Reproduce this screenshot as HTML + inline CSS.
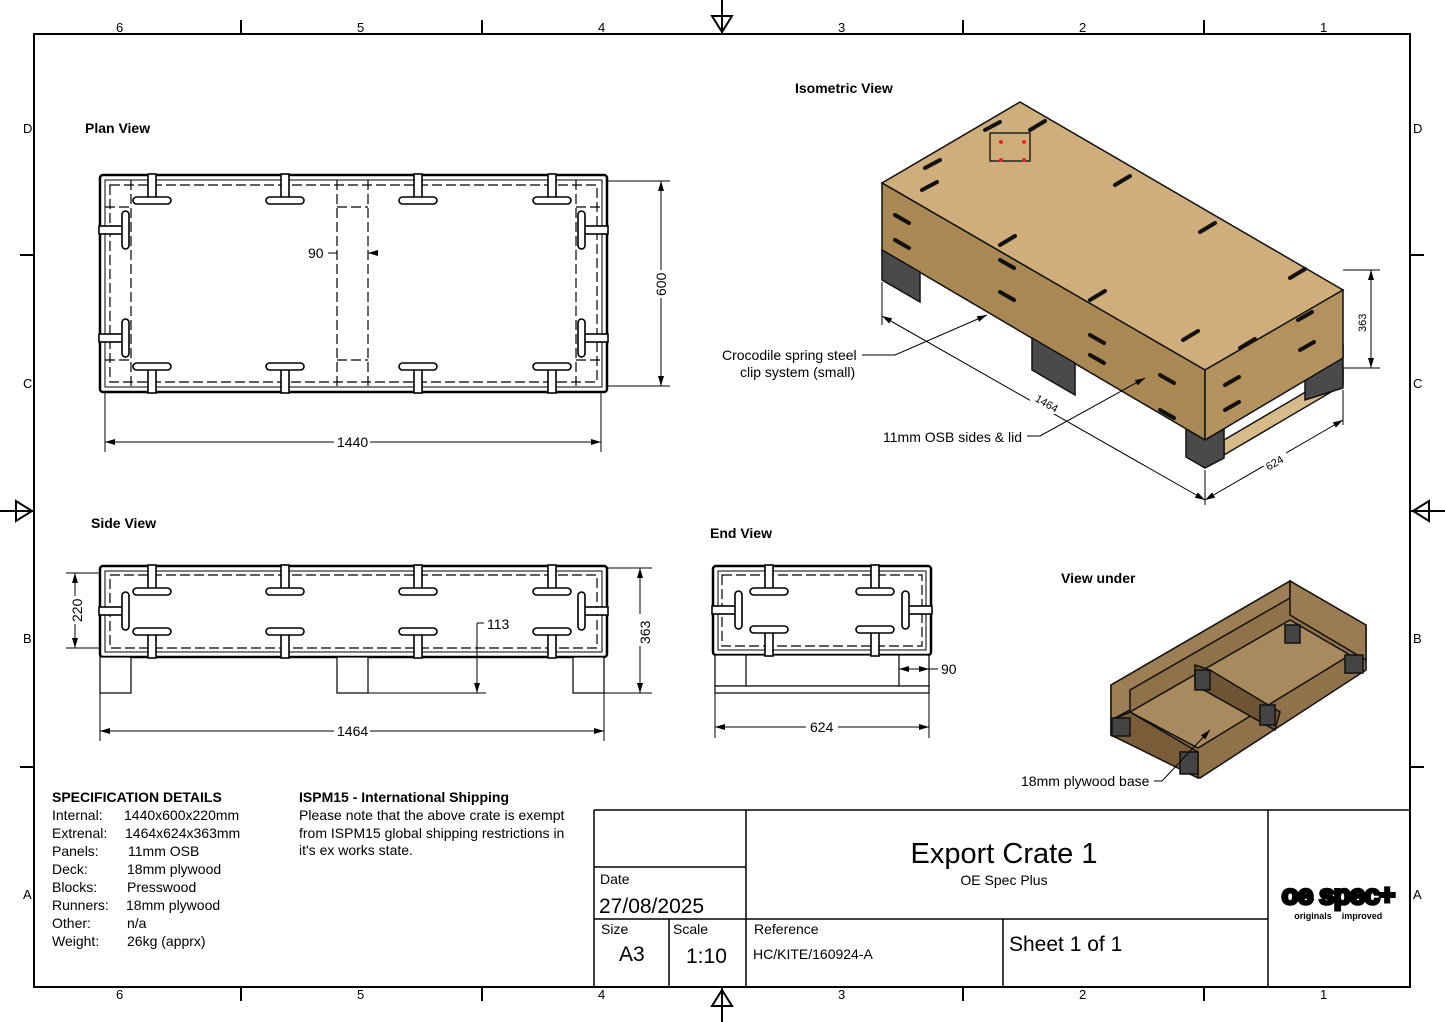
<!DOCTYPE html>
<html><head><meta charset="utf-8"><style>
html,body{margin:0;padding:0;background:#fff}
svg{display:block}
text{font-family:"Liberation Sans","DejaVu Sans",sans-serif;fill:#000}
</style></head><body>
<svg width="1445" height="1022" viewBox="0 0 1445 1022" xmlns="http://www.w3.org/2000/svg">
<defs>
<g id="tc" fill="#fff" stroke="#000" stroke-width="1.6">
<rect x="-4" y="0" width="8" height="26"/>
<rect x="-19" y="23" width="38" height="7" rx="3.5"/>
</g>
<marker id="ar" markerWidth="10" markerHeight="6" refX="10" refY="3" orient="auto-start-reverse" markerUnits="userSpaceOnUse"><path d="M0,0 L10,3 L0,6z" fill="#000"/></marker>
</defs>

<!-- frame -->
<rect x="34" y="34" width="1376" height="953" fill="none" stroke="#000" stroke-width="2"/>
<g stroke="#000" stroke-width="2">
<line x1="241" y1="20" x2="241" y2="34"/><line x1="482" y1="20" x2="482" y2="34"/><line x1="963" y1="20" x2="963" y2="34"/><line x1="1204" y1="20" x2="1204" y2="34"/>
<line x1="241" y1="987" x2="241" y2="1001"/><line x1="482" y1="987" x2="482" y2="1001"/><line x1="963" y1="987" x2="963" y2="1001"/><line x1="1204" y1="987" x2="1204" y2="1001"/>
<line x1="20" y1="255" x2="34" y2="255"/><line x1="20" y1="767" x2="34" y2="767"/>
<line x1="1410" y1="255" x2="1424" y2="255"/><line x1="1410" y1="767" x2="1424" y2="767"/>
<line x1="722" y1="0" x2="722" y2="34"/><line x1="722" y1="987" x2="722" y2="1022"/>
<line x1="0" y1="511" x2="34" y2="511"/><line x1="1410" y1="511" x2="1445" y2="511"/>
</g>
<g fill="none" stroke="#000" stroke-width="2">
<path d="M712,16 L732,16 L722,32 Z"/><path d="M712,1006 L732,1006 L722,990 Z"/>
<path d="M16,501 L16,521 L32,511 Z"/><path d="M1429,501 L1429,521 L1413,511 Z"/>
</g>
<g font-size="13">
<text x="116" y="32">6</text><text x="357" y="32">5</text><text x="598" y="32">4</text><text x="838" y="32">3</text><text x="1079" y="32">2</text><text x="1320" y="32">1</text>
<text x="116" y="999">6</text><text x="357" y="999">5</text><text x="598" y="999">4</text><text x="838" y="999">3</text><text x="1079" y="999">2</text><text x="1320" y="999">1</text>
<text x="23" y="133">D</text><text x="23" y="388">C</text><text x="23" y="643">B</text><text x="23" y="899">A</text>
<text x="1413" y="133">D</text><text x="1413" y="388">C</text><text x="1413" y="643">B</text><text x="1413" y="899">A</text>
</g>

<g font-size="14" font-weight="bold">
<text x="85" y="133">Plan View</text>
<text x="795" y="93">Isometric View</text>
<text x="91" y="528">Side View</text>
<text x="710" y="538">End View</text>
<text x="1061" y="583">View under</text>
</g>

<!-- PLAN VIEW -->
<rect x="100" y="175" width="507" height="217" fill="none" stroke="#000" stroke-width="2.5" rx="3"/>
<rect x="105" y="180" width="497" height="207" fill="none" stroke="#000" stroke-width="1"/>
<g fill="none" stroke="#000" stroke-width="1.2" stroke-dasharray="10,4">
<rect x="110" y="185" width="487" height="197"/>
<line x1="131" y1="180" x2="131" y2="387"/><line x1="576" y1="180" x2="576" y2="387"/>
<line x1="105" y1="207" x2="131" y2="207"/><line x1="105" y1="360" x2="131" y2="360"/>
<line x1="576" y1="207" x2="602" y2="207"/><line x1="576" y1="360" x2="602" y2="360"/>
<line x1="337" y1="180" x2="337" y2="387"/><line x1="368" y1="180" x2="368" y2="387"/>
<line x1="337" y1="207" x2="368" y2="207"/><line x1="337" y1="360" x2="368" y2="360"/>
</g>
<g>
<use href="#tc" transform="translate(152,174)"/><use href="#tc" transform="translate(285,174)"/><use href="#tc" transform="translate(418,174)"/><use href="#tc" transform="translate(552,174)"/>
<use href="#tc" transform="translate(152,393) rotate(180)"/><use href="#tc" transform="translate(285,393) rotate(180)"/><use href="#tc" transform="translate(418,393) rotate(180)"/><use href="#tc" transform="translate(552,393) rotate(180)"/>
<use href="#tc" transform="translate(99,230) rotate(-90)"/><use href="#tc" transform="translate(99,338) rotate(-90)"/>
<use href="#tc" transform="translate(608,230) rotate(90)"/><use href="#tc" transform="translate(608,338) rotate(90)"/>
</g>
<g stroke="#000" stroke-width="1" fill="none">
<line x1="607" y1="181" x2="670" y2="181"/><line x1="607" y1="386" x2="670" y2="386"/>
<line x1="661" y1="181" x2="661" y2="270" marker-start="url(#ar)"/><line x1="661" y1="298" x2="661" y2="386" marker-end="url(#ar)"/>
<line x1="105" y1="392" x2="105" y2="452"/><line x1="601" y1="392" x2="601" y2="452"/>
<line x1="105" y1="442" x2="334" y2="442" marker-start="url(#ar)"/><line x1="370" y1="442" x2="601" y2="442" marker-end="url(#ar)"/>
<line x1="328" y1="253" x2="337" y2="253"/>
<line x1="368" y1="253" x2="378" y2="253" marker-start="url(#ar)"/>
</g>
<text x="308" y="258" font-size="14">90</text>
<text x="337" y="447" font-size="14">1440</text>
<text x="666" y="296" font-size="14" transform="rotate(-90 666 296)">600</text>

<!-- SIDE VIEW -->
<rect x="100" y="566" width="507" height="91" fill="none" stroke="#000" stroke-width="2.5" rx="3"/>
<rect x="105" y="571" width="497" height="81" fill="none" stroke="#000" stroke-width="1"/>
<rect x="110" y="575" width="487" height="73" fill="none" stroke="#000" stroke-width="1.2" stroke-dasharray="10,4"/>
<g fill="#fff" stroke="#000" stroke-width="1.2">
<rect x="100" y="657" width="31" height="36"/><rect x="337" y="657" width="31" height="36"/><rect x="573" y="657" width="31" height="36"/>
</g>
<use href="#tc" transform="translate(152,565)"/><use href="#tc" transform="translate(285,565)"/><use href="#tc" transform="translate(418,565)"/><use href="#tc" transform="translate(552,565)"/>
<use href="#tc" transform="translate(152,658) rotate(180)"/><use href="#tc" transform="translate(285,658) rotate(180)"/><use href="#tc" transform="translate(418,658) rotate(180)"/><use href="#tc" transform="translate(552,658) rotate(180)"/>
<use href="#tc" transform="translate(99,611) rotate(-90)"/><use href="#tc" transform="translate(608,611) rotate(90)"/>
<g stroke="#000" stroke-width="1" fill="none">
<line x1="66" y1="573" x2="100" y2="573"/><line x1="66" y1="648" x2="100" y2="648"/>
<line x1="75" y1="573" x2="75" y2="596" marker-start="url(#ar)"/><line x1="75" y1="624" x2="75" y2="648" marker-end="url(#ar)"/>
<line x1="607" y1="568" x2="652" y2="568"/><line x1="604" y1="693" x2="652" y2="693"/>
<line x1="640" y1="568" x2="640" y2="614" marker-start="url(#ar)"/><line x1="640" y1="646" x2="640" y2="693" marker-end="url(#ar)"/>
<line x1="100" y1="693" x2="100" y2="741"/><line x1="604" y1="693" x2="604" y2="741"/>
<line x1="100" y1="731" x2="334" y2="731" marker-start="url(#ar)"/><line x1="370" y1="731" x2="604" y2="731" marker-end="url(#ar)"/>
<line x1="368" y1="693" x2="486" y2="693"/>
<line x1="477" y1="623" x2="477" y2="693" marker-end="url(#ar)"/><line x1="477" y1="623" x2="484" y2="623"/>
</g>
<text x="337" y="736" font-size="14">1464</text>
<text x="487" y="629" font-size="14">113</text>
<text x="82" y="622" font-size="14" transform="rotate(-90 82 622)">220</text>
<text x="650" y="644" font-size="14" transform="rotate(-90 650 644)">363</text>

<!-- END VIEW -->
<rect x="713" y="566" width="218" height="89" fill="none" stroke="#000" stroke-width="2.5" rx="3"/>
<rect x="718" y="571" width="208" height="79" fill="none" stroke="#000" stroke-width="1"/>
<rect x="722" y="575" width="200" height="71" fill="none" stroke="#000" stroke-width="1.2" stroke-dasharray="10,4"/>
<g fill="#fff" stroke="#000" stroke-width="1.2">
<rect x="715" y="655" width="214" height="31"/><line x1="746" y1="655" x2="746" y2="686"/><line x1="899" y1="655" x2="899" y2="686"/>
<rect x="715" y="686" width="214" height="7"/>
</g>
<use href="#tc" transform="translate(769,565)"/><use href="#tc" transform="translate(875,565)"/>
<use href="#tc" transform="translate(769,656) rotate(180)"/><use href="#tc" transform="translate(875,656) rotate(180)"/>
<use href="#tc" transform="translate(712,610) rotate(-90)"/><use href="#tc" transform="translate(932,610) rotate(90)"/>
<g stroke="#000" stroke-width="1" fill="none">
<line x1="715" y1="693" x2="715" y2="738"/><line x1="929" y1="693" x2="929" y2="738"/>
<line x1="715" y1="727" x2="806" y2="727" marker-start="url(#ar)"/><line x1="838" y1="727" x2="929" y2="727" marker-end="url(#ar)"/>
<line x1="899" y1="669" x2="929" y2="669" marker-start="url(#ar)" marker-end="url(#ar)"/><line x1="929" y1="669" x2="938" y2="669"/>
</g>
<text x="810" y="732" font-size="14">624</text>
<text x="941" y="674" font-size="14">90</text>

<!-- ISOMETRIC -->
<g stroke="#111" stroke-width="1.5">
<polygon points="1224,440 1343,370 1343,385 1224,455" fill="#d7bb8a"/>
<polygon points="1305,362 1343,345 1343,388 1305,400" fill="#4a4a4a"/>
<polygon points="1020,102 1343,290 1205,370 882,183" fill="#cfae7c"/>
<polygon points="882,183 1205,370 1205,440 882,250" fill="#a98853"/>
<polygon points="1205,370 1343,290 1343,358 1205,440" fill="#b4925e"/>
<polygon points="882,250 920,272 920,302 882,280" fill="#4a4a4a"/>
<polygon points="1032,338 1075,363 1075,395 1032,370" fill="#4a4a4a"/>
<polygon points="1186,429 1205,440 1224,429 1224,458 1205,468 1186,457" fill="#4a4a4a"/>
</g>
<g stroke="#111" stroke-width="4" stroke-linecap="round" fill="none">
<path d="M985,130 l15,-8 M1030,130 l15,-9 M925,168 l15,-8 M922,190 l15,-8 M1115,185 l15,-9 M1200,232 l15,-9 M1290,278 l15,-9 M1183,340 l15,-9 M1240,348 l15,-9 M1000,245 l15,-9 M1090,300 l15,-9"/>
<path d="M895,215 l14,8 M895,240 l14,8 M1000,260 l14,8 M1000,292 l14,8 M1090,335 l14,8 M1090,355 l14,8 M1160,375 l14,8 M1160,410 l14,8 M1298,320 l14,-8 M1300,350 l14,-8 M1225,385 l14,-8 M1225,410 l14,-8"/>
</g>
<rect x="990" y="133" width="40" height="28" fill="none" stroke="#222" stroke-width="1.5"/>
<g fill="#e22"><circle cx="1001" cy="142" r="2"/><circle cx="1024" cy="142" r="2"/><circle cx="1001" cy="160" r="2"/><circle cx="1024" cy="160" r="2"/></g>
<g stroke="#000" stroke-width="1" fill="none">
<line x1="882" y1="282" x2="882" y2="325"/><line x1="1205" y1="470" x2="1205" y2="505"/>
<line x1="882" y1="316" x2="1205" y2="500" marker-start="url(#ar)" marker-end="url(#ar)"/>
<line x1="1205" y1="500" x2="1343" y2="420" marker-start="url(#ar)" marker-end="url(#ar)"/>
<line x1="1343" y1="390" x2="1343" y2="425"/>
<line x1="1343" y1="270" x2="1380" y2="270"/><line x1="1343" y1="368" x2="1380" y2="368"/>
<line x1="1371" y1="270" x2="1371" y2="368" marker-start="url(#ar)" marker-end="url(#ar)"/>
<polyline points="862,355 895,355 987,315" marker-end="url(#ar)"/>
<polyline points="1027,436 1040,436 1145,378" marker-end="url(#ar)"/>
</g>
<rect x="1030" y="398" width="30" height="16" fill="#fff"/>
<text x="1032" y="407" font-size="11" transform="rotate(30 1045 408)">1464</text>
<rect x="1262" y="452" width="24" height="14" fill="#fff"/>
<text x="1264" y="466" font-size="11" transform="rotate(-30 1275 460)">624</text>
<text x="1366" y="332" font-size="11" transform="rotate(-90 1366 332)">363</text>
<text x="722" y="360" font-size="14">Crocodile spring steel</text>
<text x="740" y="377" font-size="14">clip system (small)</text>
<text x="883" y="442" font-size="14">11mm OSB sides &amp; lid</text>

<!-- VIEW UNDER -->
<g stroke="#111" stroke-width="1.5">
<polygon points="1111,685 1290,581 1366,625 1366,670 1200,778 1111,735" fill="#8f714a"/>
<polygon points="1111,685 1290,581 1290,598 1130,690 1130,710 1111,720" fill="#9e7f55"/>
<polygon points="1130,712 1290,620 1350,655 1198,748" fill="#a88a5e"/>
<polygon points="1111,720 1130,712 1198,752 1198,778 1111,735" fill="#7a5c38"/>
<polygon points="1195,665 1210,670 1280,712 1275,730 1195,685" fill="#6f5535"/>
<polygon points="1290,581 1366,625 1366,660 1290,615" fill="#9a7b52"/>
<rect x="1112" y="718" width="18" height="18" fill="#444"/>
<rect x="1180" y="752" width="18" height="22" fill="#444"/>
<rect x="1195" y="670" width="15" height="20" fill="#444"/>
<rect x="1260" y="705" width="15" height="20" fill="#444"/>
<rect x="1285" y="625" width="15" height="18" fill="#444"/>
<rect x="1345" y="655" width="18" height="18" fill="#444"/>
</g>
<polyline points="1154,781 1162,781 1210,730" stroke="#000" fill="none" stroke-width="1" marker-end="url(#ar)"/>
<text x="1021" y="786" font-size="14">18mm plywood base</text>

<!-- SPEC -->
<text x="52" y="802" font-size="14" font-weight="bold">SPECIFICATION DETAILS</text>
<g font-size="14">
<text x="52" y="820">Internal:</text><text x="124" y="820">1440x600x220mm</text>
<text x="52" y="838">Extrenal:</text><text x="125" y="838">1464x624x363mm</text>
<text x="52" y="856">Panels:</text><text x="128" y="856">11mm OSB</text>
<text x="52" y="874">Deck:</text><text x="127" y="874">18mm plywood</text>
<text x="52" y="892">Blocks:</text><text x="127" y="892">Presswood</text>
<text x="52" y="910">Runners:</text><text x="126" y="910">18mm plywood</text>
<text x="52" y="928">Other:</text><text x="127" y="928">n/a</text>
<text x="52" y="946">Weight:</text><text x="127" y="946">26kg (apprx)</text>
</g>
<text x="299" y="802" font-size="14" font-weight="bold">ISPM15 - International Shipping</text>
<g font-size="14">
<text x="299" y="820">Please note that the above crate is exempt</text>
<text x="299" y="838">from ISPM15 global shipping restrictions in</text>
<text x="299" y="855">it's ex works state.</text>
</g>

<!-- TITLE BLOCK -->
<g stroke="#000" stroke-width="1.5" fill="none">
<line x1="594" y1="810" x2="1410" y2="810"/>
<line x1="594" y1="810" x2="594" y2="987"/>
<line x1="746" y1="810" x2="746" y2="987"/>
<line x1="594" y1="867" x2="746" y2="867"/>
<line x1="594" y1="919" x2="1268" y2="919"/>
<line x1="669" y1="919" x2="669" y2="987"/>
<line x1="1003" y1="919" x2="1003" y2="987"/>
<line x1="1268" y1="810" x2="1268" y2="987"/>
</g>
<text x="600" y="884" font-size="14">Date</text>
<text x="599" y="913" font-size="21">27/08/2025</text>
<text x="601" y="934" font-size="14">Size</text>
<text x="619" y="961" font-size="21">A3</text>
<text x="673" y="934" font-size="14">Scale</text>
<text x="686" y="963" font-size="21">1:10</text>
<text x="754" y="934" font-size="14">Reference</text>
<text x="753" y="959" font-size="14">HC/KITE/160924-A</text>
<text x="1009" y="951" font-size="21">Sheet 1 of 1</text>
<text x="1004" y="863" font-size="29" text-anchor="middle">Export Crate 1</text>
<text x="1004" y="885" font-size="14" text-anchor="middle">OE Spec Plus</text>
<text x="1338" y="904" font-size="28" font-weight="bold" text-anchor="middle" fill="#fff" stroke="#000" stroke-width="3" paint-order="stroke" letter-spacing="-1">oe spec+</text>
<text x="1313" y="919" font-size="9" font-weight="bold" text-anchor="middle">originals</text>
<text x="1362" y="919" font-size="9" font-weight="bold" text-anchor="middle">improved</text>
</svg>
</body></html>
